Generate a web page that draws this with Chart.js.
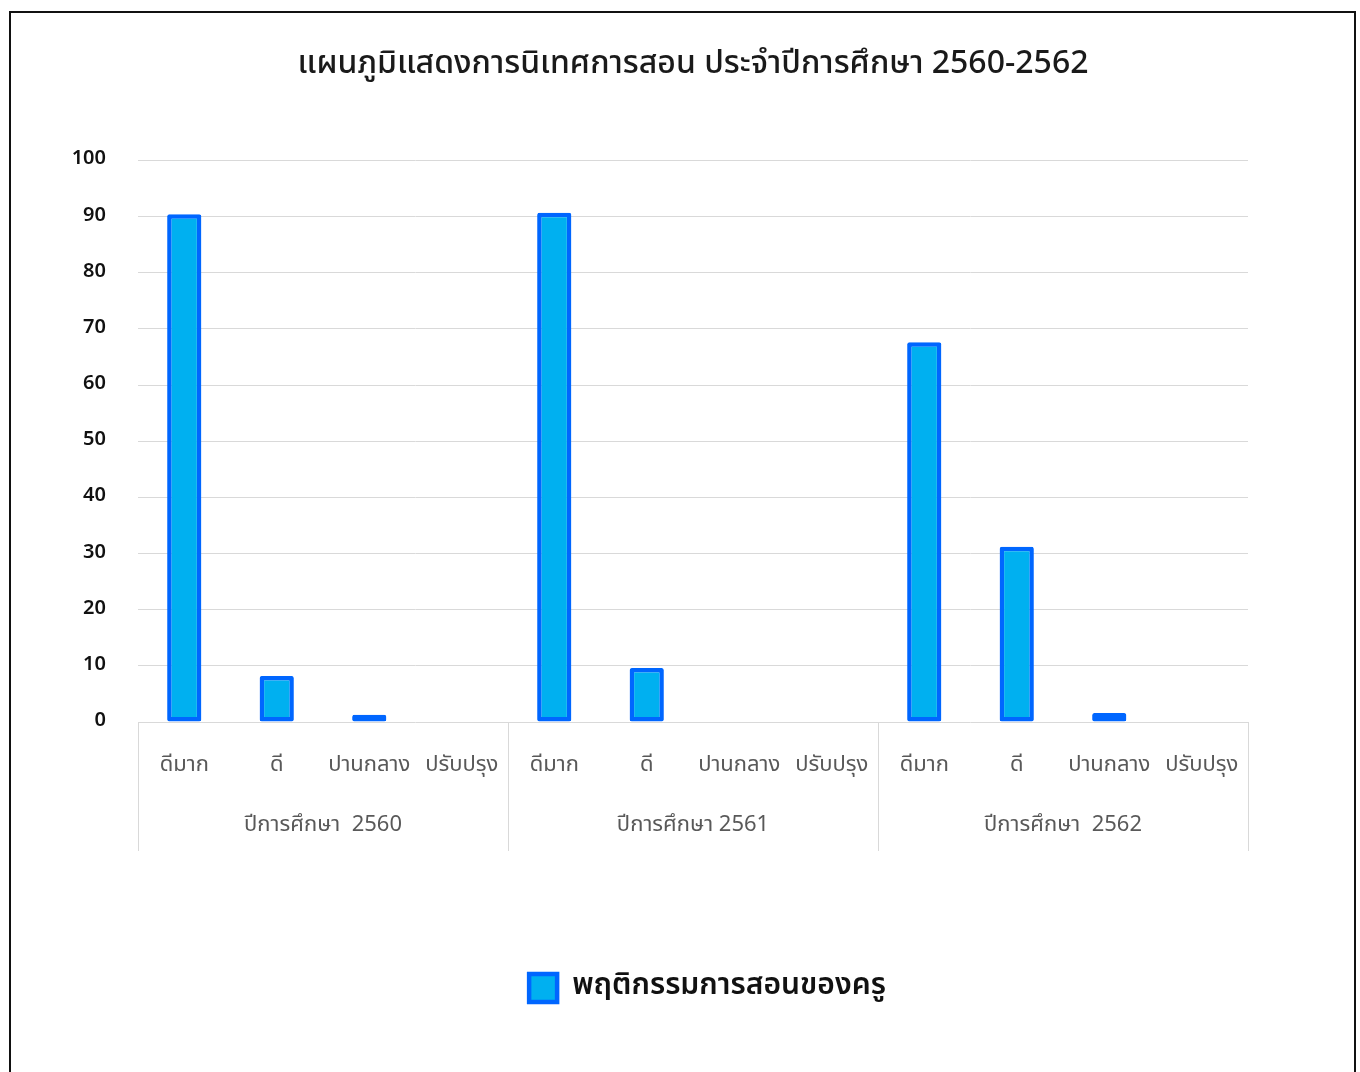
<!DOCTYPE html>
<html>
<head>
<meta charset="utf-8">
<script src="https://cdn.jsdelivr.net/npm/chart.js@4.4.1/dist/chart.umd.min.js"></script>
<style>
  html, body { margin: 0; padding: 0; background: #ffffff; }
  #wrap { position: absolute; left: 0; top: 0; width: 1360px; height: 1072px; }
  #frame { position: absolute; left: 9px; top: 11px; width: 1347px; height: 1100px; border: 2px solid #111; box-sizing: border-box; pointer-events: none; }
</style>
</head>
<body>
<div id="wrap"><canvas id="c" width="1360" height="1072"></canvas></div>
<div id="frame"></div>
<script>
const FONT = "Tahoma, 'Leelawadee UI', 'Noto Sans Thai', 'Noto Sans', 'DejaVu Sans', sans-serif";

const chartTitle = 'แผนภูมิแสดงการนิเทศการสอน ประจำปีการศึกษา 2560-2562';
const seriesName = 'พฤติกรรมการสอนของครู';
const levels = ['ดีมาก', 'ดี', 'ปานกลาง', 'ปรับปรุง'];
const groups = ['ปีการศึกษา  2560', 'ปีการศึกษา 2561', 'ปีการศึกษา  2562'];
const categories = [
  'ดีมาก', 'ดี', 'ปานกลาง', 'ปรับปรุง',
  'ดีมาก', 'ดี', 'ปานกลาง', 'ปรับปรุง',
  'ดีมาก', 'ดี', 'ปานกลาง', 'ปรับปรุง'
];
const values = [90.4, 8.2, 1.3, 0, 90.7, 9.6, 0, 0, 67.6, 31.2, 1.6, 0];
const yTicks = [0, 10, 20, 30, 40, 50, 60, 70, 80, 90, 100];

const groupPlugin = {
  id: 'groupLabels',
  afterDraw(chart) {
    const x = chart.scales.x;
    const area = chart.chartArea;
    const ctx = chart.ctx;
    const per = levels.length;
    ctx.save();
    ctx.strokeStyle = '#d9d9d9';
    ctx.lineWidth = 1;
    for (let g = 0; g <= groups.length; g++) {
      const px = Math.round(x.getPixelForValue(g * per - 0.5)) + 0.5;
      ctx.beginPath();
      ctx.moveTo(px, area.bottom);
      ctx.lineTo(px, area.bottom + 129);
      ctx.stroke();
    }
    ctx.fillStyle = '#595959';
    ctx.font = '22px ' + FONT;
    ctx.textAlign = 'center';
    ctx.textBaseline = 'middle';
    groups.forEach((name, g) => {
      const cx = x.getPixelForValue(g * per + (per - 1) / 2);
      ctx.fillText(name, cx, area.bottom + 105);
    });
    ctx.restore();
  }
};

new Chart(document.getElementById('c'), {
  type: 'bar',
  data: {
    labels: categories,
    datasets: [{
      label: seriesName,
      data: values,
      backgroundColor: '#00b0f0',
      borderColor: '#0066ff',
      borderWidth: 4.5,
      borderSkipped: false,
      borderRadius: 2,
      categoryPercentage: 1.0,
      barPercentage: 0.37
    }]
  },
  options: {
    responsive: false,
    animation: false,
    devicePixelRatio: 1,
    layout: { padding: { left: 55, right: 0, top: 0, bottom: 59 } },
    plugins: {
      title: {
        display: true,
        fullSize: false,
        text: chartTitle,
        color: '#1a1a1a',
        font: { family: FONT, size: 32, weight: 500 },
        padding: { top: 47, bottom: 75 }
      },
      legend: {
        position: 'bottom',
        labels: {
          color: '#111',
          font: { family: FONT, size: 30, weight: 600 },
          boxWidth: 28,
          boxHeight: 28,
          padding: 10
        }
      },
      tooltip: { enabled: false }
    },
    scales: {
      y: {
        min: 0,
        max: 100,
        afterBuildTicks(scale) { scale.ticks = yTicks.map(v => ({ value: v })); },
        afterFit(scale) { scale.width = 83; },
        border: { display: false },
        grid: { color: '#d9d9d9', drawTicks: false },
        ticks: {
          color: '#111',
          font: { family: FONT, size: 20, weight: 600 },
          padding: 32
        }
      },
      y2: {
        position: 'right',
        min: 0,
        max: 100,
        afterFit(scale) { scale.width = 112; },
        border: { display: false },
        grid: { drawOnChartArea: false, drawTicks: false },
        ticks: { display: false }
      },
      x: {
        afterFit(scale) { scale.height = 241; },
        border: { display: false },
        grid: { display: false },
        ticks: {
          color: '#595959',
          font: { family: FONT, size: 22 },
          padding: 23,
          maxRotation: 0,
          autoSkip: false
        }
      }
    }
  },
  plugins: [groupPlugin]
});
</script>
</body>
</html>
